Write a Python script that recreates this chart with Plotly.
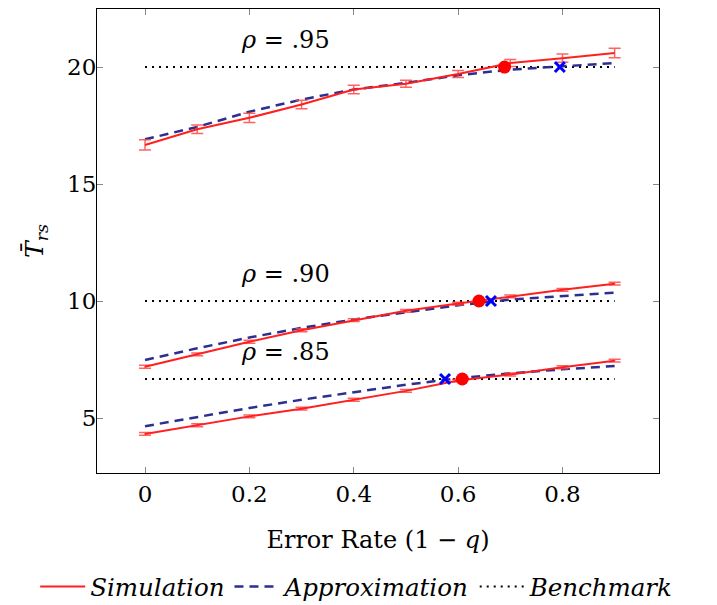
import plotly.graph_objects as go

error_rate = [0.0, 0.1, 0.2, 0.3, 0.4, 0.5, 0.6, 0.7, 0.8, 0.9]

sim_95 = [16.67, 17.34, 17.83, 18.40, 19.04, 19.29, 19.70, 20.17, 20.38, 20.60]
sim_95_err = [0.22, 0.18, 0.2, 0.18, 0.18, 0.15, 0.15, 0.15, 0.18, 0.2]
app_95 = [16.91, 17.44, 18.09, 18.61, 19.04, 19.32, 19.65, 19.89, 20.03, 20.17]

sim_90 = [7.19, 7.72, 8.26, 8.75, 9.18, 9.58, 9.89, 10.20, 10.48, 10.74]
sim_90_err = [0.06] * 10
app_90 = [7.48, 7.98, 8.44, 8.85, 9.21, 9.53, 9.82, 10.06, 10.20, 10.36]

sim_85 = [4.32, 4.69, 5.07, 5.40, 5.78, 6.16, 6.60, 6.86, 7.17, 7.45]
sim_85_err = [0.06] * 10
app_85 = [4.65, 5.04, 5.43, 5.78, 6.11, 6.42, 6.70, 6.91, 7.08, 7.22]

benchmarks = [20.0, 10.0, 6.667]
rho_labels = ["<i>ρ</i> = .95", "<i>ρ</i> = .90", "<i>ρ</i> = .85"]
sim_cross_x = [0.689, 0.640, 0.608]
app_cross_x = [0.795, 0.663, 0.575]

bench_x = [0.0, 0.9]
label_x = 0.27

RED = "#ff1f1f"
ERR = "rgba(255,70,70,0.85)"
BLUE = "#2b2f8f"
FONT = "DejaVu Serif"

fig = go.Figure()

groups = [
    (sim_95, sim_95_err, app_95),
    (sim_90, sim_90_err, app_90),
    (sim_85, sim_85_err, app_85),
]

for i, (sim, err, app) in enumerate(groups):
    fig.add_trace(go.Scatter(
        x=bench_x, y=[benchmarks[i]] * 2, mode="lines",
        line=dict(color="black", width=2, dash="2px,5px"),
        name="<i>Benchmark</i>", legendgroup="b", legendrank=3,
        showlegend=(i == 0)))
    fig.add_trace(go.Scatter(
        x=error_rate, y=app, mode="lines",
        line=dict(color=BLUE, width=2.5, dash="9px,6px"),
        name="<i>Approximation</i>", legendgroup="a", legendrank=2,
        showlegend=(i == 0)))
    fig.add_trace(go.Scatter(
        x=error_rate, y=sim, mode="lines",
        line=dict(color=RED, width=2),
        error_y=dict(type="data", array=err, visible=True,
                     color=ERR, thickness=1.5, width=6),
        name="<i>Simulation</i>", legendgroup="s", legendrank=1,
        showlegend=(i == 0)))
    fig.add_trace(go.Scatter(
        x=[sim_cross_x[i]], y=[benchmarks[i]], mode="markers",
        marker=dict(color="#ff0000", size=13, symbol="circle"),
        showlegend=False))
    fig.add_trace(go.Scatter(
        x=[app_cross_x[i]], y=[benchmarks[i]], mode="markers",
        marker=dict(color="#0000ff", size=10, symbol="x-thin",
                    line=dict(color="#0000ff", width=3)),
        showlegend=False))
    fig.add_annotation(x=label_x, y=benchmarks[i] + 1.15, text=rho_labels[i],
                       showarrow=False, font=dict(size=24, family=FONT, color="black"))

# page body has an 8px margin: size the figure so the plot area lands where the reference has it
fig.update_layout(
    width=709, height=598,
    margin=dict(l=89, r=58, t=1, b=133, autoexpand=False),
    plot_bgcolor="white", paper_bgcolor="white",
    font=dict(family=FONT, size=23, color="black"),
    legend=dict(orientation="h", x=-0.11, xanchor="left", y=-0.245, yanchor="middle",
                font=dict(size=24.5, family=FONT), traceorder="grouped",
                itemwidth=45, tracegroupgap=0),
    showlegend=True,
)

fig.update_xaxes(range=[-0.092, 0.985], tickvals=[0, 0.2, 0.4, 0.6, 0.8],
                 ticktext=["0", "0.2", "0.4", "0.6", "0.8"], automargin=False,
                 showgrid=False, zeroline=False, showline=True, linecolor="black",
                 linewidth=1, mirror="ticks", ticks="inside", ticklen=6,
                 tickcolor="#888888", tickfont=dict(size=23, family=FONT),
                 title=dict(text="Error Rate (1 − <i>q</i>)", standoff=25,
                            font=dict(size=24, family=FONT)))
fig.update_yaxes(range=[2.65, 22.48], tickvals=[5, 10, 15, 20], automargin=False,
                 showgrid=False, zeroline=False, showline=True, linecolor="black",
                 linewidth=1, mirror="ticks", ticks="inside", ticklen=6,
                 tickcolor="#888888", tickfont=dict(size=23, family=FONT),
                 ticklabelstandoff=-5,
                 title=dict(text="<i>T̄</i><sub><i>rs</i></sub>", standoff=16,
                            font=dict(size=25, family=FONT)))

fig.write_html("out.html")
